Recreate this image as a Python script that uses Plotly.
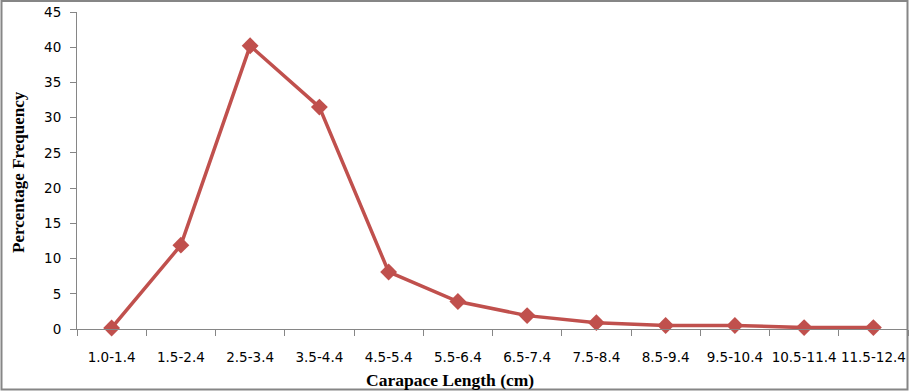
import plotly.graph_objects as go

categories = ["1.0-1.4", "1.5-2.4", "2.5-3.4", "3.5-4.4", "4.5-5.4", "5.5-6.4",
              "6.5-7.4", "7.5-8.4", "8.5-9.4", "9.5-10.4", "10.5-11.4", "11.5-12.4"]
percent_freq = [0.15, 11.9, 40.2, 31.5, 8.1, 3.9, 1.9, 0.9, 0.5, 0.5, 0.2, 0.2]
y_ticks = [0, 5, 10, 15, 20, 25, 30, 35, 40, 45]

W, H = 909, 391
L, R, T, B = 77, 1, 12, 62
pw, ph = W - L - R, H - T - B

def px_x(x):
    return (x - L) / pw

def px_y(y):
    return (H - B - y) / ph

fig = go.Figure()
fig.add_trace(go.Scatter(
    x=categories, y=percent_freq, mode="lines+markers",
    line=dict(color="#C0504D", width=3.5),
    marker=dict(symbol="diamond", size=13, color="#C0504D"),
    cliponaxis=False, showlegend=False,
))

axis_col = "#868686"
tick_font = dict(family="DejaVu Sans", size=13.5, color="black")
fig.update_layout(
    width=W, height=H,
    margin=dict(l=L, r=R, t=T, b=B, autoexpand=False),
    paper_bgcolor="white", plot_bgcolor="white",
    font=dict(family="DejaVu Sans", size=13, color="black"),
    xaxis=dict(
        type="category", range=[-0.5, 11.5], tickson="boundaries",
        ticks="outside", ticklen=6, tickcolor=axis_col, tickangle=0,
        ticklabelstandoff=16,
        showline=True, linecolor=axis_col, linewidth=1,
        showgrid=False, zeroline=False, fixedrange=True, automargin=False,
        tickfont=tick_font,
    ),
    yaxis=dict(
        range=[0, 45], tickvals=y_ticks,
        ticks="outside", ticklen=6, tickcolor=axis_col,
        ticklabelstandoff=6,
        showline=True, linecolor=axis_col, linewidth=1,
        showgrid=False, zeroline=False, fixedrange=True, automargin=False,
        tickfont=tick_font,
    ),
    annotations=[
        dict(text="<b>Carapace Length (cm)</b>", xref="paper", yref="paper",
             x=px_x(450), y=px_y(380), showarrow=False,
             font=dict(family="Liberation Serif", size=17.5, color="black"),
             xanchor="center", yanchor="middle"),
        dict(text="<b>Percentage Frequency</b>", xref="paper", yref="paper",
             x=px_x(18), y=px_y(172), showarrow=False, textangle=-90,
             font=dict(family="Liberation Serif", size=17, color="black"),
             xanchor="center", yanchor="middle"),
    ],
    shapes=[
        dict(type="rect", xref="paper", yref="paper",
             x0=px_x(1.5), x1=px_x(907.5), y0=px_y(389.5), y1=px_y(1),
             line=dict(color=axis_col, width=2), fillcolor="rgba(0,0,0,0)",
             layer="above"),
    ],
)

fig.write_html("out.html", config={"displayModeBar": False},
               post_script="document.body.style.margin='0';document.body.style.padding='0';")
